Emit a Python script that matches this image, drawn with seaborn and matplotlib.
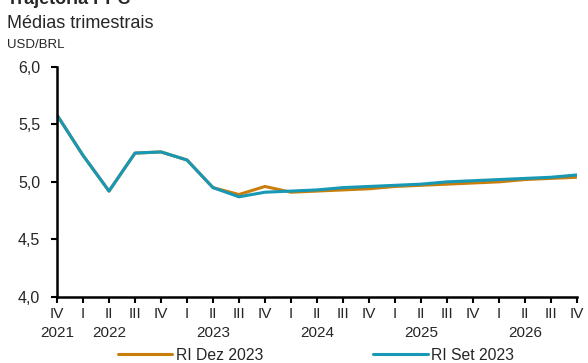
import numpy as np
import pandas as pd
import matplotlib.pyplot as plt
import seaborn as sns

# quarters from IV/2021 to IV/2026
quarters = ["IV", "I", "II", "III", "IV", "I", "II", "III", "IV", "I", "II",
            "III", "IV", "I", "II", "III", "IV", "I", "II", "III", "IV"]
years = ["2021", "", "2022", "", "", "", "2023", "", "", "", "2024",
         "", "", "", "2025", "", "", "", "2026", "", ""]

ri_dez_2023 = [5.58, 5.23, 4.92, 5.25, 5.26, 5.19, 4.95, 4.89, 4.96, 4.91, 4.92,
               4.93, 4.94, 4.96, 4.97, 4.98, 4.99, 5.00, 5.02, 5.03, 5.04]
ri_set_2023 = [5.58, 5.23, 4.92, 5.25, 5.26, 5.19, 4.95, 4.87, 4.91, 4.92, 4.93,
               4.95, 4.96, 4.97, 4.98, 5.00, 5.01, 5.02, 5.03, 5.04, 5.06]

series_names = ["RI Dez 2023", "RI Set 2023"]
colors = ["#C97E0C", "#1798B4"]

df = pd.DataFrame({
    "t": list(range(len(quarters))) * 2,
    "value": ri_dez_2023 + ri_set_2023,
    "serie": [series_names[0]] * len(quarters) + [series_names[1]] * len(quarters),
})

sns.set_style("white")
plt.rcParams["font.family"] = ["Liberation Sans", "DejaVu Sans"]

fig = plt.figure(figsize=(5.88, 3.63), dpi=100)
ax = fig.add_axes([0.097, 0.182, 0.884, 0.634])

sns.lineplot(data=df, x="t", y="value", hue="serie", palette=colors,
             linewidth=2.2, ax=ax, legend=False)

ax.set_xlim(0, len(quarters) - 1)
ax.set_ylim(4.0, 6.0)
ax.set_yticks([4.0, 4.5, 5.0, 5.5, 6.0])
ax.set_yticklabels(["4,0", "4,5", "5,0", "5,5", "6,0"], fontsize=11.5)
ax.set_xticks(range(len(quarters)))
ax.set_xticklabels([q + "\n" + y for q, y in zip(quarters, years)],
                   fontsize=11, linespacing=1.5)
ax.set_xlabel("")
ax.set_ylabel("")

for s in ["top", "right"]:
    ax.spines[s].set_visible(False)
for s in ["left", "bottom"]:
    ax.spines[s].set_color("black")
    ax.spines[s].set_linewidth(1.8)
ax.tick_params(axis="both", direction="out", length=4, width=1.5,
               color="black", bottom=True, left=True)
ax.tick_params(axis="x", pad=3)
ax.tick_params(axis="y", pad=8)

fig.text(0.012, 0.99, "Trajetória PPC", fontsize=13, fontweight="bold",
         va="baseline", ha="left")
fig.text(0.012, 0.923, "Médias trimestrais", fontsize=13, va="baseline", ha="left")
fig.text(0.012, 0.867, "USD/BRL", fontsize=9.5, va="baseline", ha="left")

handles = [plt.Line2D([], [], color=c, linewidth=2.2) for c in colors]
fig.legend(handles, series_names, loc="center", ncol=2, frameon=False,
           bbox_to_anchor=(0.537, 0.022), fontsize=11.3, handlelength=3.5,
           handletextpad=0.2, columnspacing=7.0, borderpad=0)

fig.savefig("out.png", dpi=100)
